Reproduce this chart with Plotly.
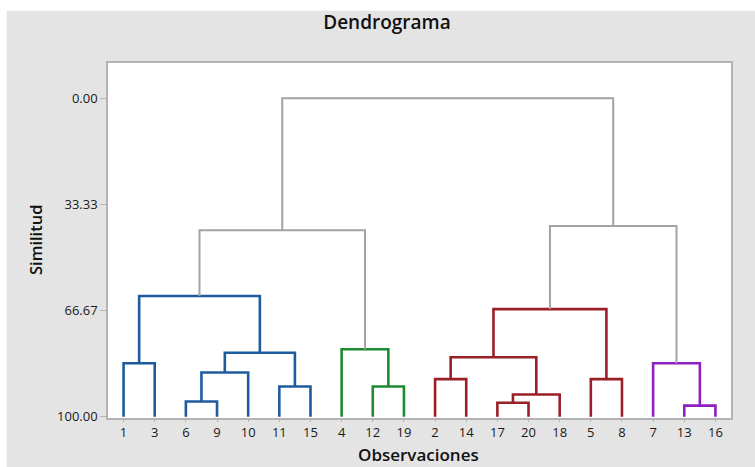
import plotly.graph_objects as go

# ---- data ----
leaf_labels = ["1", "3", "6", "9", "10", "11", "15", "4", "12", "19",
               "2", "14", "17", "20", "18", "5", "8", "7", "13", "16"]
leaf_level = 100.0

# merges: (left child, right child, similarity level, cluster)
merge_left = ["1", "6", "m2", "11", "m3", "m1", "12", "4", "m6", "2", "17", "m11", "m10", "5", "m13", "13", "7", "m15", "m9"]
merge_right = ["3", "9", "10", "15", "m4", "m5", "19", "m7", "m8", "14", "20", "18", "m12", "8", "m14", "16", "m16", "m17", "m18"]
merge_level = [83.2, 95.2, 86.1, 90.5, 79.9, 62.1, 90.5, 78.8, 41.4, 88.2, 95.6, 93.0, 81.3, 88.2, 66.2, 96.5, 83.2, 40.1, 0.0]
merge_cluster = ["blue", "blue", "blue", "blue", "blue", "blue", "green", "green", "gray",
                 "red", "red", "red", "red", "red", "red", "purple", "purple", "gray", "gray"]

y_tick_vals = [0.0, 33.33, 66.67, 100.0]
y_tick_text = ["0.00", "33.33", "66.67", "100.00"]

colors = {"blue": "#1F5C9E", "green": "#1E8A32", "red": "#9A1F27",
          "purple": "#8E1FC0", "gray": "#A3A3A3"}
widths = {"blue": 2.6, "green": 2.6, "red": 2.6, "purple": 2.6, "gray": 2.0}

# ---- build node positions ----
pos = {}
for i, lab in enumerate(leaf_labels):
    pos[lab] = (i + 1, leaf_level)

fig = go.Figure()
for k, (a, b, h, c) in enumerate(zip(merge_left, merge_right, merge_level, merge_cluster)):
    xa, ya = pos[a]
    xb, yb = pos[b]
    fig.add_trace(go.Scatter(
        x=[xa, xa, xb, xb], y=[ya, h, h, yb], mode="lines",
        line=dict(color=colors[c], width=widths[c]),
        hoverinfo="skip", showlegend=False))
    pos["m%d" % (k + 1)] = ((xa + xb) / 2.0, h)

font_family = "Open Sans, Noto Sans, sans-serif"

fig.update_layout(
    width=755, height=467,
    margin=dict(l=108, r=24, t=63, b=49),
    paper_bgcolor="#E4E4E4",
    plot_bgcolor="#FFFFFF",
    font=dict(family=font_family, color="#1A1A1A", size=13),
    showlegend=False,
    title=dict(text="Dendrograma", x=(387 - 108) / 623, xref="paper", xanchor="center",
               y=1 - 22 / 467, yref="container", yanchor="middle",
               font=dict(family=font_family, size=19, color="#111111", weight=600)),
    xaxis=dict(range=[0.5, 20.5], tickmode="array",
               tickvals=list(range(1, len(leaf_labels) + 1)), ticktext=leaf_labels,
               showgrid=False, zeroline=False, showline=True, mirror=True,
               linecolor="#B4B4B4", linewidth=1.5,
               ticks="outside", ticklen=2, tickcolor="#B4B4B4",
               tickfont=dict(size=13, color="#1A1A1A"), fixedrange=True),
    yaxis=dict(range=[100.4, -11.1], tickmode="array",
               tickvals=y_tick_vals, ticktext=y_tick_text,
               showgrid=False, zeroline=False, showline=True, mirror=True,
               linecolor="#B4B4B4", linewidth=1.5,
               ticks="outside", ticklen=6, tickcolor="#B4B4B4",
               tickfont=dict(size=13, color="#1A1A1A"), fixedrange=True),
    annotations=[
        dict(text="Observaciones", xref="paper", yref="paper", x=(418 - 108) / 623,
             y=(418 - 454) / 355, xanchor="center", yanchor="middle", showarrow=False,
             font=dict(family=font_family, size=17, color="#111111", weight=600)),
        dict(text="Similitud", xref="paper", yref="paper", x=(35 - 108) / 623,
             y=(418 - 240) / 355, xanchor="center", yanchor="middle", showarrow=False,
             textangle=-90,
             font=dict(family=font_family, size=16.5, color="#111111", weight=600)),
    ],
    shapes=[
        dict(type="rect", xref="paper", yref="paper", x0=-0.3, x1=1.2,
             y0=(418 - 10.7) / 355, y1=1.4, fillcolor="#FFFFFF", line=dict(width=0), layer="above"),
        dict(type="rect", xref="paper", yref="paper", x0=-0.3, x1=(6.7 - 108) / 623,
             y0=-0.3, y1=1.4, fillcolor="#FFFFFF", line=dict(width=0), layer="above"),
    ],
)

fig.write_html("out.html", config={"displayModeBar": False},
               post_script="document.body.style.margin='0px';document.body.style.padding='0px';")
